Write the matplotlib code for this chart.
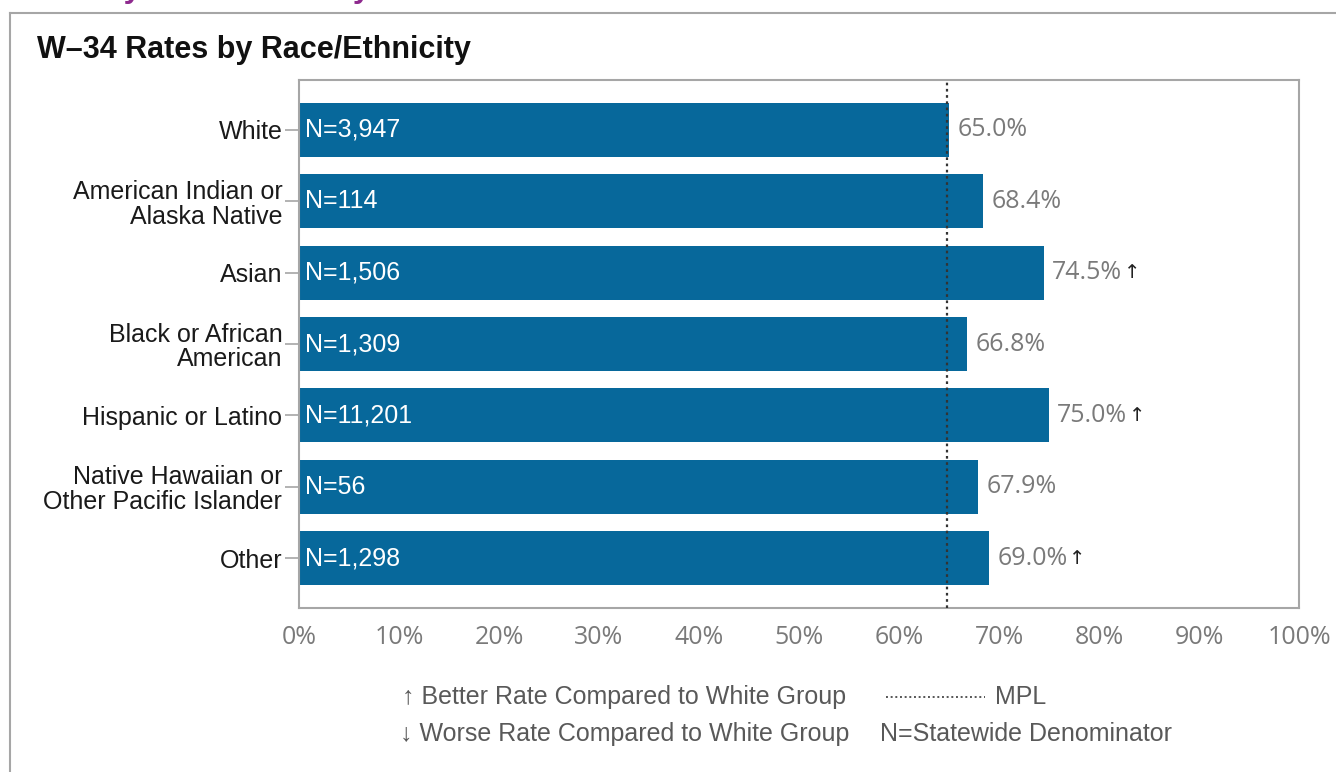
import matplotlib.pyplot as plt
from matplotlib.lines import Line2D

# rates by group, statewide denominators and significance flags
groups = ["White", "American Indian or\nAlaska Native", "Asian",
          "Black or African\nAmerican", "Hispanic or Latino",
          "Native Hawaiian or\nOther Pacific Islander", "Other"]
rates = [65.0, 68.4, 74.5, 66.8, 75.0, 67.9, 69.0]
denominators = ["3,947", "114", "1,506", "1,309", "11,201", "56", "1,298"]
better = [False, False, True, False, True, False, True]
mpl_rate = 64.8
x_ticks = [0, 10, 20, 30, 40, 50, 60, 70, 80, 90, 100]

W, H = 1336, 772
BAR = "#07689B"
GREY = "#7a7a7a"
FRAME = "#a6a6a6"
FS = 18

plt.rcParams['font.family'] = ['Liberation Sans', 'DejaVu Sans']

fig = plt.figure(figsize=(W / 100, H / 100), dpi=100)

def fx(px):
    return px / W

def fy(py):
    return 1 - py / H

# page border and the section heading running off the top
fig.add_artist(Line2D([fx(10), fx(10)], [fy(13), 0], color=FRAME, lw=1.5))
fig.add_artist(Line2D([fx(10), 1.0], [fy(13), fy(13)], color=FRAME, lw=1.5))
fig.text(fx(8), fy(-3), "Rates by Race/Ethnicity", color="#8e2a8e",
         fontsize=23, fontweight="bold", ha="left", va="baseline")

fig.text(fx(37), fy(58), "W\u201334 Rates by Race/Ethnicity", fontsize=22,
         fontweight="bold", color="#111111", ha="left", va="baseline")

ax = fig.add_axes([fx(299), fy(608), fx(1000), 528 / H])
ypos = list(range(len(groups)))
ax.barh(ypos, rates, height=0.76, color=BAR, zorder=2)
ax.axvline(mpl_rate, color="#333333", ls=(0, (1.2, 1.6)), lw=1.6, zorder=3)

ax.set_xlim(0, 100)
ax.set_ylim(len(groups) - 0.3, -0.7)
ax.set_yticks(ypos)
ax.set_yticklabels(groups, fontsize=FS, color="#1a1a1a", linespacing=1.05)
ax.set_xticks(x_ticks)
ax.set_xticklabels([f"{t}%" for t in x_ticks], fontsize=FS, color=GREY,
                   family=["Open Sans", "DejaVu Sans"])
ax.tick_params(axis="y", length=10, width=1.2, color=FRAME, pad=2)
ax.tick_params(axis="x", length=0, pad=12)
for s in ax.spines.values():
    s.set_color(FRAME)
    s.set_linewidth(1.5)

for y, r, n, b in zip(ypos, rates, denominators, better):
    ax.text(0.6, y, f"N={n}", color="white", fontsize=FS, va="center",
            ha="left", zorder=4)
    t = ax.annotate(f"{r:.1f}%", (r, y), xytext=(6, 0),
                    textcoords="offset points", color=GREY, fontsize=FS,
                    va="center", ha="left", family=["Open Sans", "DejaVu Sans"])
    if b:
        ax.annotate("\u2191", (1, 0.5), xycoords=t, xytext=(1, 0),
                    textcoords="offset points", fontsize=14, color="#222222",
                    va="center", ha="left", family=["DejaVu Sans"])

# legend key under the axis
leg_color = "#595959"
fig.text(fx(402), fy(697), "\u2191 Better Rate Compared to White Group",
         fontsize=FS, color=leg_color, va="center", ha="left")
fig.text(fx(400), fy(734), "\u2193 Worse Rate Compared to White Group",
         fontsize=FS, color=leg_color, va="center", ha="left")
fig.add_artist(Line2D([fx(886), fx(985)], [fy(697), fy(697)], color="#555555",
                      ls=(0, (1, 1.4)), lw=1.4))
fig.text(fx(995), fy(697), "MPL", fontsize=FS, color=leg_color,
         va="center", ha="left")
fig.text(fx(880), fy(734), "N=Statewide Denominator", fontsize=FS,
         color=leg_color, va="center", ha="left")

fig.savefig("out.png", dpi=100)
